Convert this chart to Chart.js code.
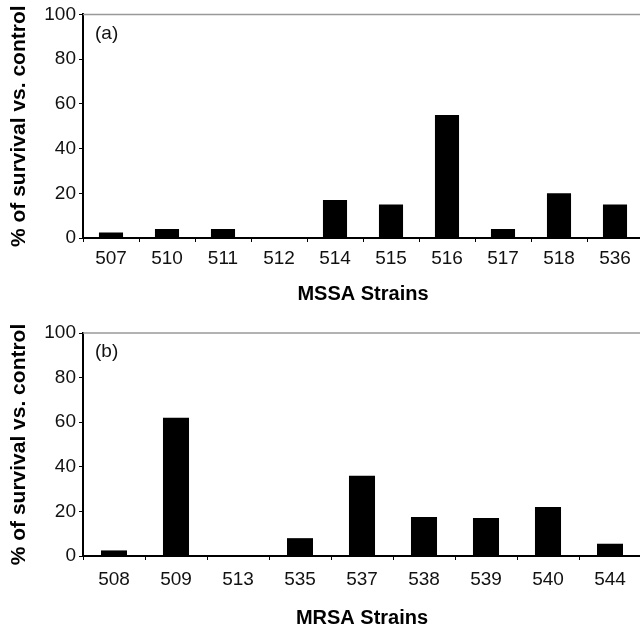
<!DOCTYPE html>
<html>
<head>
<meta charset="utf-8">
<script src="https://cdn.jsdelivr.net/npm/chart.js@4"></script>
<style>
  html, body { margin: 0; padding: 0; background: #fff; overflow: hidden; }
  canvas { position: absolute; left: 0; }
</style>
</head>
<body>
<canvas id="chartA" width="646" height="310" style="top:0px"></canvas>
<canvas id="chartB" width="646" height="321" style="top:310px"></canvas>
<script>
// panel (a) - MSSA
const mssaStrains = ['507', '510', '511', '512', '514', '515', '516', '517', '518', '536'];
const mssaSurvival = [2.5, 4, 4, 0, 17, 15, 55, 4, 20, 15];

// panel (b) - MRSA
const mrsaStrains = ['508', '509', '513', '535', '537', '538', '539', '540', '544'];
const mrsaSurvival = [2.5, 62, 0, 8, 36, 17.5, 17, 22, 5.5];

const yMax = 100;
const yStep = 20;

const FONT = 'Liberation Sans, Arial, Helvetica, sans-serif';

// gray top line + panel tag
const panelDecor = {
  id: 'panelDecor',
  afterDraw(chart, args, opts) {
    const { ctx, chartArea } = chart;
    ctx.save();
    ctx.strokeStyle = '#999';
    ctx.lineWidth = 1.5;
    ctx.beginPath();
    ctx.moveTo(chartArea.left, chartArea.top);
    ctx.lineTo(chartArea.right + 10, chartArea.top);
    ctx.stroke();
    ctx.fillStyle = '#111';
    ctx.font = '19px ' + FONT;
    ctx.textAlign = 'left';
    ctx.textBaseline = 'middle';
    ctx.fillText(opts.tag, chartArea.left + 12, chartArea.top + 19);
    ctx.restore();
  }
};

function makeChart(id, labels, values, xTitle, g) {
  return new Chart(document.getElementById(id), {
    type: 'bar',
    data: {
      labels: labels,
      datasets: [{
        data: values,
        backgroundColor: '#000',
        borderWidth: 0,
        barPercentage: 1,
        categoryPercentage: g.barFrac
      }]
    },
    options: {
      responsive: false,
      animation: false,
      layout: { padding: { top: g.top, right: g.right, left: 0, bottom: 0 } },
      plugins: {
        legend: { display: false },
        tooltip: { enabled: false },
        panelDecor: { tag: g.tag }
      },
      scales: {
        x: {
          grid: { display: true, drawOnChartArea: false, offset: true, tickLength: 4, color: '#000', lineWidth: 1 },
          border: { color: '#000', width: 2 },
          ticks: { color: '#111', font: { family: FONT, size: 19 }, padding: g.labelPad, maxRotation: 0 },
          title: {
            display: true,
            text: xTitle,
            color: '#000',
            font: { family: FONT, size: 20, weight: 'bold' },
            padding: { top: 0, bottom: g.titlePad }
          },
          afterFit: (scale) => { scale.height = g.xHeight; }
        },
        y: {
          min: 0,
          max: yMax,
          grid: { display: true, drawOnChartArea: false, tickLength: 4, color: '#000', lineWidth: 1 },
          border: { color: '#000', width: 2 },
          ticks: { stepSize: yStep, color: '#111', font: { family: FONT, size: 19 }, padding: 3 },
          title: {
            display: true,
            text: '% of survival vs. control',
            color: '#000',
            font: { family: FONT, size: 21, weight: 'bold' },
            padding: { top: 7, bottom: 0 }
          },
          afterFit: (scale) => { scale.width = 83; }
        }
      }
    },
    plugins: [panelDecor]
  });
}

makeChart('chartA', mssaStrains, mssaSurvival, 'MSSA Strains',
  { tag: '(a)', top: 13, right: 3, xHeight: 72, labelPad: 5, titlePad: 4, barFrac: 0.43 });
makeChart('chartB', mrsaStrains, mrsaSurvival, 'MRSA Strains',
  { tag: '(b)', top: 23, right: 5, xHeight: 75, labelPad: 8, titlePad: 1, barFrac: 0.42 });
</script>
</body>
</html>
